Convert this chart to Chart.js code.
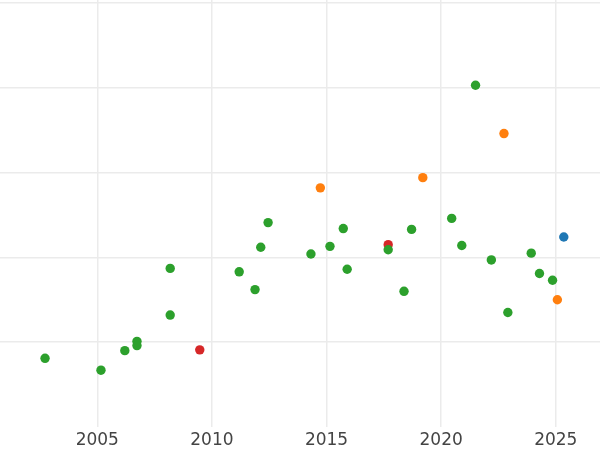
<!DOCTYPE html>
<html>
<head>
<meta charset="utf-8">
<script src="https://cdn.jsdelivr.net/npm/chart.js@4/dist/chart.umd.min.js"></script>
<style>
  body { margin: 0; background: #fff; }
</style>
</head>
<body>
<canvas id="scatterChart" width="600" height="450"></canvas>
<script>
//Data: year on x, value on y (y tick labels are not shown)
var greenX = [2002.72, 2005.16, 2006.20, 2006.73, 2006.73, 2008.18, 2008.18, 2011.19, 2011.88, 2012.13,
              2012.45, 2014.32, 2015.15, 2015.73, 2015.90, 2017.69, 2018.71, 2018.38, 2020.46, 2020.90,
              2021.50, 2022.19, 2022.91, 2023.93, 2024.29, 2024.86];
var greenY = [0.81, 0.67, 0.90, 1.01, 0.96, 1.32, 1.87, 1.83, 1.62, 2.12,
              2.41, 2.04, 2.13, 2.34, 1.86, 2.09, 2.33, 1.60, 2.46, 2.14,
              4.03, 1.97, 1.35, 2.05, 1.81, 1.73];
var orangeX = [2014.73, 2019.20, 2022.74, 2025.07];
var orangeY = [2.82, 2.94, 3.46, 1.50];
var redX = [2009.47, 2017.69];
var redY = [0.91, 2.15];
var blueX = [2025.35];
var blueY = [2.24];

//Tick values for the axes
var xTicks = [2005, 2010, 2015, 2020, 2025];
var yGrid = [1, 2, 3, 4, 5];

//Turn two arrays into {x, y} points
function toPoints(xs, ys) {
    return xs.map(function (x, i) { return { x: x, y: ys[i] }; });
}

var ctx = document.getElementById('scatterChart').getContext('2d');

var scatterChart = new Chart(ctx, {
    type: 'scatter',
    data: {
        datasets: [
            { label: 'Green', data: toPoints(greenX, greenY), backgroundColor: '#2ca02c' },
            { label: 'Orange', data: toPoints(orangeX, orangeY), backgroundColor: '#ff7f0e' },
            { label: 'Red', data: toPoints(redX, redY), backgroundColor: '#d62728' },
            { label: 'Blue', data: toPoints(blueX, blueY), backgroundColor: '#1f77b4' }
        ]
    },
    options: {
        responsive: false,
        animation: false,
        layout: { padding: 0, autoPadding: false },
        elements: {
            point: { radius: 4.7, borderWidth: 0, hoverRadius: 5 }
        },
        plugins: {
            legend: { display: false },
            tooltip: { enabled: false }
        },
        scales: {
            x: {
                type: 'linear',
                min: 2000.755,
                max: 2026.93,
                afterBuildTicks: function (scale) {
                    scale.ticks = xTicks.map(function (v) { return { value: v }; });
                },
                afterFit: function (scale) { scale.height = 23; },
                border: { display: false },
                grid: { color: '#ebebeb', lineWidth: 1.5, drawTicks: false },
                ticks: {
                    padding: 3,
                    color: '#444',
                    font: { family: 'DejaVu Sans', size: 17 },
                    callback: function (v) { return String(v); }
                }
            },
            y: {
                type: 'linear',
                min: 0,
                max: 5.035,
                afterBuildTicks: function (scale) {
                    scale.ticks = yGrid.map(function (v) { return { value: v }; });
                },
                afterFit: function (scale) { scale.width = 0; },
                border: { display: false },
                grid: { color: '#ebebeb', lineWidth: 1.5, drawTicks: false },
                ticks: { display: false }
            }
        }
    }
});
</script>
</body>
</html>
